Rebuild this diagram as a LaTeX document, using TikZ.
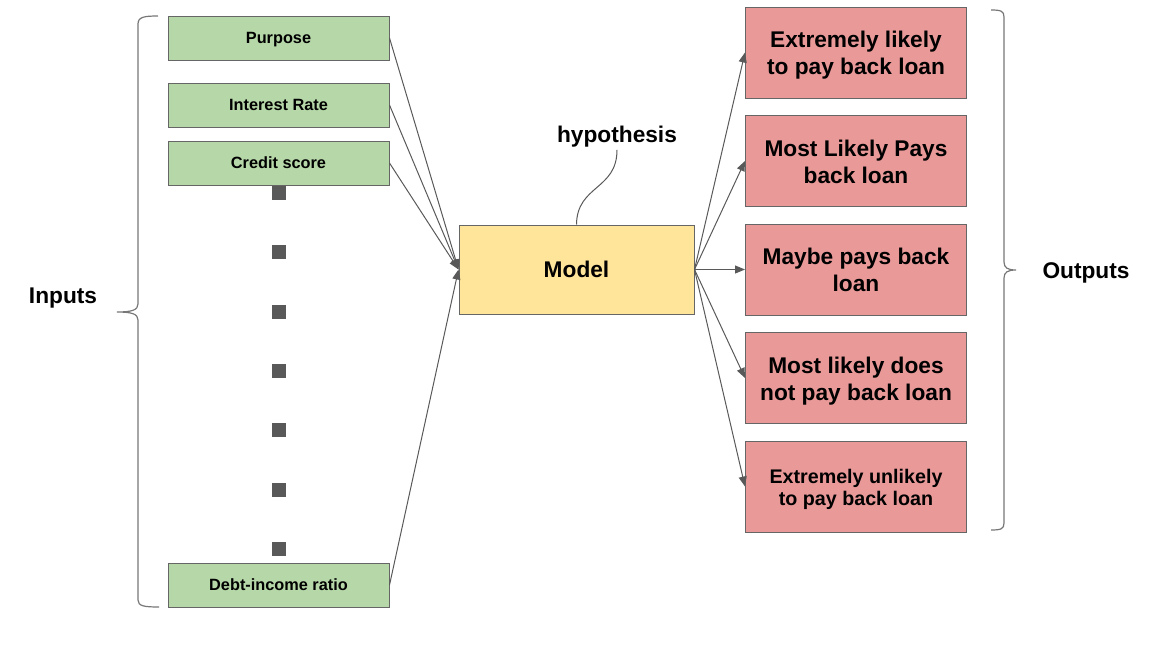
\documentclass[tikz,border=0pt]{standalone}
\usepackage{fontspec}
\setmainfont{Liberation Sans}
\usetikzlibrary{arrows.meta}
\definecolor{ingreen}{HTML}{B6D7A8}
\definecolor{modyel}{HTML}{FFE599}
\definecolor{outred}{HTML}{EA9999}
\definecolor{edgegray}{HTML}{666666}
\definecolor{conngray}{HTML}{595959}
\definecolor{bracegray}{HTML}{777777}
\newcommand{\twoline}[2]{\raisebox{-3.3pt}[\height][\depth]{\begin{tabular}{@{}c@{}}#1\\#2\end{tabular}}}
\begin{document}
\begin{tikzpicture}[x=1pt,y=-1pt,
  inbox/.style={draw=edgegray, fill=ingreen, line width=1pt, minimum width=221pt, minimum height=44pt, inner sep=0pt, text height=11.7pt, text depth=0pt, font=\bfseries\fontsize{16.3}{19}\selectfont},
  modbox/.style={draw=edgegray, fill=modyel, line width=1pt, minimum width=235pt, minimum height=89pt, inner sep=0pt, text height=16.3pt, text depth=0pt, font=\bfseries\fontsize{22.7}{27}\selectfont},
  outbox/.style={draw=edgegray, fill=outred, line width=1pt, minimum width=221pt, minimum height=91pt, inner sep=0pt, font=\bfseries\fontsize{22.7}{27}\selectfont},
  outboxsmall/.style={outbox, font=\bfseries\fontsize{19.7}{22}\selectfont},
  lbl/.style={inner sep=0pt, anchor=base, font=\bfseries\fontsize{22.7}{27}\selectfont},
  conn/.style={draw=conngray, line width=1pt, -{Triangle[length=10pt,width=8pt]}},
  curveline/.style={draw=conngray, line width=1pt},
  bracestyle/.style={draw=bracegray, line width=1.2pt},
  dotsq/.style={fill=conngray}
]
\useasboundingbox (0,0) rectangle (1161,645);

% inputs
\node[inbox] (purpose) at (278.5,38) {Purpose};
\node[inbox] (interest) at (278.5,105) {Interest Rate};
\node[inbox] (credit) at (278.5,163) {Credit score};
\node[inbox] (debt) at (278.5,585) {Debt-income ratio};

% dots
\foreach \yy in {193,252,312,371,430,490,549}
  \fill[dotsq] (272,\yy-7) rectangle (286,\yy+7);

% model
\node[modbox] (model) at (576.5,269.5) {Model};
\node[lbl, inner sep=3pt] (hyp) at (617,142) {hypothesis};
\draw[curveline] (model.north) .. controls (577,185) and (617,190) .. (hyp.south);

% outputs
\node[outbox] (o1) at (856,52.5) {\twoline{Extremely likely}{to pay back loan}};
\node[outbox] (o2) at (856,161) {\twoline{Most Likely Pays}{back loan}};
\node[outbox] (o3) at (856,269.5) {\twoline{Maybe pays back}{loan}};
\node[outbox] (o4) at (856,378) {\twoline{Most likely does}{not pay back loan}};
\node[outboxsmall] (o5) at (856,486.5) {\twoline{Extremely unlikely}{to pay back loan}};

% connectors
\draw[conn] (purpose.east) -- (model.west);
\draw[conn] (interest.east) -- (model.west);
\draw[conn] (credit.east) -- (model.west);
\draw[conn] (debt.east) -- (model.west);
\draw[conn] (model.east) -- (o1.west);
\draw[conn] (model.east) -- (o2.west);
\draw[conn] (model.east) -- (o3.west);
\draw[conn] (model.east) -- (o4.west);
\draw[conn] (model.east) -- (o5.west);

% braces
\draw[bracestyle] (158,16) .. controls (144,16) and (138,17) .. (138,24)
  -- (138,304) .. controls (138,310) and (132,312) .. (117,312)
  .. controls (132,312) and (138,314) .. (138,320)
  -- (138,600) .. controls (138,606) and (144,607) .. (159,607);
\draw[bracestyle] (991,10) .. controls (1001,10) and (1004,11) .. (1004,17)
  -- (1004,262) .. controls (1004,268) and (1008,270) .. (1016,270)
  .. controls (1008,270) and (1004,272) .. (1004,278)
  -- (1004,523) .. controls (1004,529) and (1001,530) .. (991,530);

% labels
\node[lbl] (inputs) at (63,303) {Inputs};
\node[lbl] (outputs) at (1086,278) {Outputs};
\end{tikzpicture}
\end{document}
